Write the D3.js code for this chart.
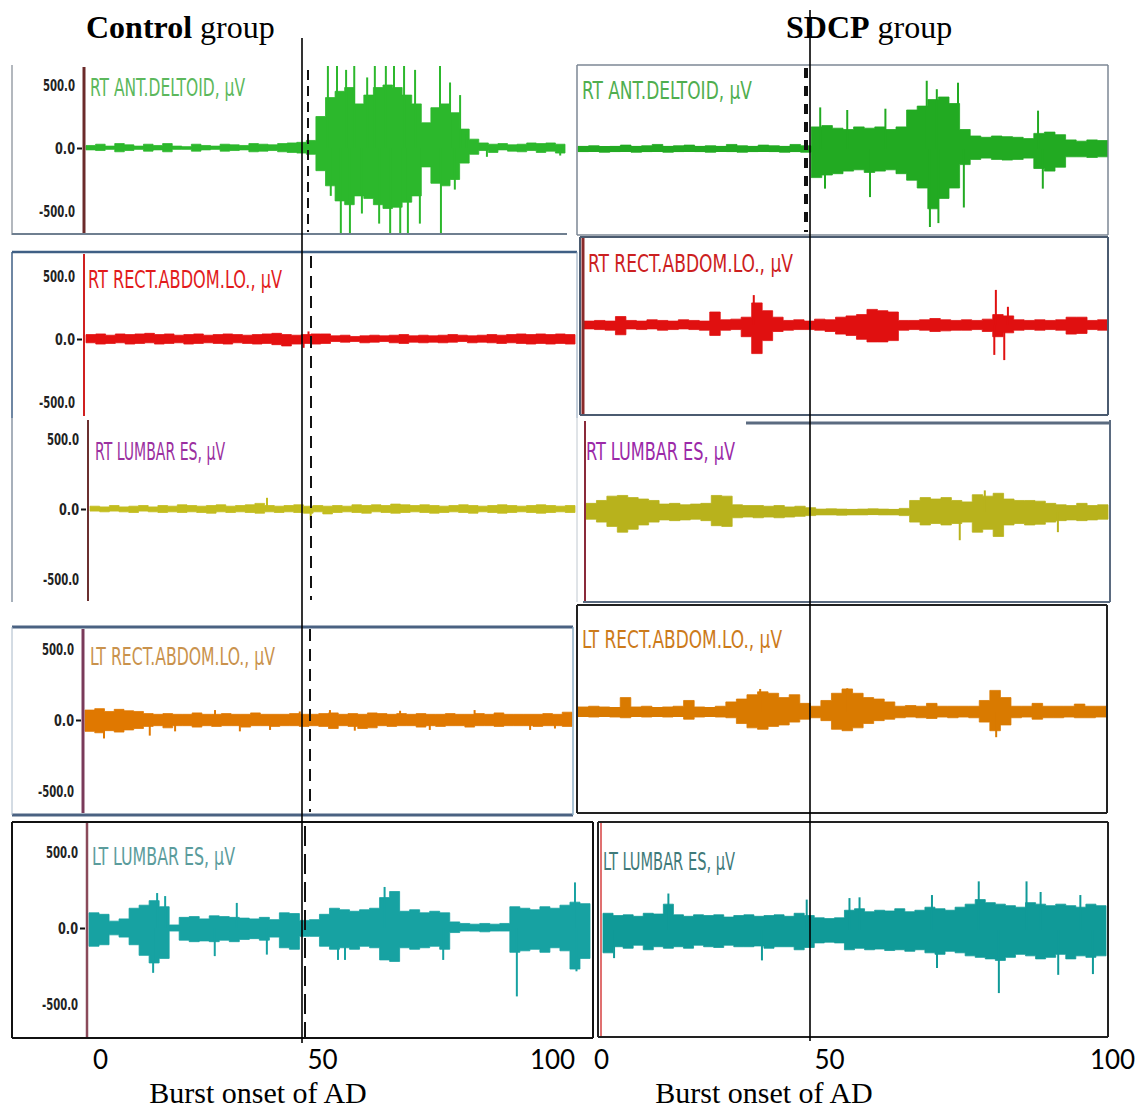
<!DOCTYPE html>
<html>
<head>
<meta charset="utf-8">
<script src="https://cdn.jsdelivr.net/npm/d3@7"></script>
<style>
  body { margin: 0; background: #fff; }
  svg { display: block; }
</style>
</head>
<body>
<div id="chart"></div>
<script>
// EMG traces: each channel is 50 bins over the sweep (0-100),
// hi / lo = envelope of the burst in uV, spikes = [t, uV] for isolated tall deflections
const groupTitles = ["Control", "SDCP"];
const timeTicks = [0, 50, 100];
const xAxisTitle = "Burst onset of AD";
const yTickValues = [500, 0, -500];
const yTickLabels = ["500.0", "0.0", "-500.0"];
const channelNames = ["RT ANT.DELTOID, µV", "RT RECT.ABDOM.LO., µV", "RT LUMBAR ES, µV", "LT RECT.ABDOM.LO., µV", "LT LUMBAR ES, µV"];

// ---- Control group ----
const ctrlDeltoidHi = [20,30,15,35,25,15,30,20,35,15,10,30,20,15,30,25,20,35,30,25,35,40,45,60,250,400,450,480,350,420,480,500,480,420,350,200,320,350,280,150,70,40,30,35,25,30,40,35,40,30];
const ctrlDeltoidLo = [-15,-20,-10,-30,-20,-10,-25,-15,-30,-10,-10,-25,-15,-10,-25,-20,-15,-30,-25,-20,-30,-35,-40,-50,-180,-300,-420,-450,-380,-400,-450,-480,-470,-430,-380,-150,-280,-300,-250,-120,-50,-20,-35,-15,-25,-30,-20,-35,-25,-40];
const ctrlDeltoidSpikes = [[50.5,700],[51.1,-380],[52.4,700],[53.2,-700],[54.3,620],[55.1,-700],[56,700],[57.6,-520],[58.7,560],[60.3,700],[61.2,-600],[62.6,700],[63.5,-700],[64.3,700],[65.6,-700],[66.4,700],[67.2,-700],[68.7,620],[69.7,-600],[73.9,700],[74.1,-700],[76,520],[77,-330],[78.1,420],[79.5,110],[83.7,-70],[99,-60]];

const ctrlRectRHi = [35,40,30,40,35,40,45,35,40,30,35,40,30,35,40,35,30,35,40,45,35,30,35,40,40,25,30,20,25,30,25,30,35,25,30,25,30,35,30,25,30,35,30,35,40,35,40,35,40,35];
const ctrlRectRLo = [-30,-40,-35,-30,-40,-35,-30,-40,-35,-30,-40,-35,-30,-35,-40,-30,-35,-40,-35,-45,-55,-40,-35,-40,-35,-20,-25,-20,-30,-25,-20,-30,-35,-25,-30,-25,-30,-25,-20,-30,-25,-30,-35,-30,-35,-40,-35,-40,-35,-40];
const ctrlRectRSpikes = [[44.5,-70],[45.5,60]];

const ctrlLumbarRHi = [20,15,25,15,20,25,15,25,20,30,25,20,25,30,20,25,30,40,25,20,25,30,20,25,20,25,20,30,25,30,25,35,30,25,30,25,20,25,30,25,20,25,30,25,20,25,30,25,20,25];
const ctrlLumbarRLo = [-15,-20,-15,-20,-25,-15,-20,-25,-20,-25,-20,-25,-30,-20,-25,-20,-25,-30,-20,-25,-20,-25,-30,-20,-35,-25,-20,-25,-30,-20,-25,-30,-25,-20,-25,-30,-25,-20,-25,-30,-20,-25,-30,-25,-20,-25,-30,-25,-20,-25];
const ctrlLumbarRSpikes = [[36.5,80],[45.5,-80]];

const ctrlRectLHi = [70,80,60,75,65,60,45,40,45,40,40,50,40,40,45,40,40,50,40,40,40,45,40,40,45,50,40,45,40,50,45,40,45,40,45,40,40,45,40,40,45,40,50,40,40,40,40,45,40,55];
const ctrlRectLLo = [-80,-90,-75,-85,-70,-60,-45,-40,-55,-40,-40,-50,-40,-45,-40,-40,-50,-40,-40,-45,-40,-40,-45,-40,-45,-60,-40,-45,-60,-55,-40,-45,-40,-40,-50,-40,-45,-40,-40,-50,-40,-40,-45,-40,-40,-40,-45,-40,-40,-45];
const ctrlRectLSpikes = [[3.9,-130],[13.3,-110],[18.5,-80],[26.7,70],[31.8,-80],[38,-70],[44.1,60],[50.3,70],[55.4,-75],[64.7,65],[70.8,-70],[80,70],[91.4,-70],[96.5,-60]];

const ctrlLumbarLHi = [100,90,45,60,130,150,180,140,20,70,75,60,80,75,70,65,60,70,55,100,95,50,55,90,130,120,110,120,130,200,240,110,120,100,110,100,40,30,25,30,25,30,140,130,120,140,130,150,170,160];
const ctrlLumbarLLo = [-120,-110,-45,-60,-110,-180,-230,-200,-20,-80,-90,-85,-90,-80,-90,-75,-70,-80,-60,-130,-140,-55,-55,-120,-140,-130,-140,-120,-130,-210,-220,-130,-140,-130,-120,-140,-30,-20,-20,-25,-20,-20,-160,-150,-140,-160,-130,-150,-270,-200];
const ctrlLumbarLSpikes = [[12.8,-295],[13.6,230],[15.2,210],[25.1,-185],[29.5,165],[35.5,-175],[49.7,-210],[51.1,-210],[59,270],[70.7,-210],[85.4,-450],[97,300],[97.3,-285]];

// ---- SDCP group ----
const sdcpDeltoidHi = [20,25,15,20,30,20,25,35,20,25,30,20,25,20,35,25,20,30,25,20,35,25,170,180,160,150,170,160,170,150,170,300,330,380,400,350,150,100,90,100,95,90,80,120,130,110,70,60,70,65];
const sdcpDeltoidLo = [-20,-15,-25,-20,-15,-25,-20,-15,-25,-20,-15,-20,-25,-15,-20,-25,-20,-15,-20,-25,-20,-25,-220,-200,-190,-170,-160,-180,-170,-160,-190,-240,-300,-460,-380,-300,-120,-80,-70,-80,-85,-80,-70,-150,-170,-140,-60,-60,-65,-60];
const sdcpDeltoidSpikes = [[45.7,320],[46.6,-305],[50.8,300],[55.1,-370],[58,310],[65.8,525],[66.4,-600],[67.7,460],[68,-570],[71.7,510],[72.8,-450],[86.8,295],[87.7,-305]];

const sdcpRectRHi = [30,35,30,65,35,30,40,35,30,40,35,30,100,40,45,60,170,110,60,35,40,30,45,40,60,70,80,120,110,100,35,35,40,50,40,35,40,35,45,80,70,40,35,40,35,40,60,60,35,40];
const sdcpRectRLo = [-30,-35,-40,-75,-30,-35,-30,-40,-35,-30,-35,-40,-80,-40,-35,-90,-220,-120,-50,-40,-35,-35,-40,-50,-70,-80,-110,-130,-130,-120,-40,-35,-40,-50,-45,-40,-40,-35,-50,-90,-60,-40,-35,-40,-35,-40,-70,-65,-35,-40];
const sdcpRectRSpikes = [[32.4,230],[78.6,270],[78.3,-230],[80.2,-270],[80.9,140]];

const sdcpLumbarRHi = [60,80,110,115,100,90,80,55,60,50,55,60,115,110,50,45,45,40,45,35,40,30,20,22,20,18,20,22,20,18,25,80,100,90,100,80,70,120,110,130,90,80,80,75,60,50,45,60,45,50];
const sdcpLumbarRLo = [-50,-70,-100,-140,-120,-90,-70,-55,-60,-55,-50,-60,-95,-100,-40,-35,-40,-35,-40,-35,-30,-25,-20,-20,-22,-20,-20,-18,-20,-20,-25,-70,-90,-80,-90,-80,-70,-140,-120,-170,-90,-80,-90,-85,-70,-60,-55,-60,-55,-50];
const sdcpLumbarRSpikes = [[71.6,-196],[76.4,150],[90.4,-140]];

const sdcpRectLHi = [35,40,35,30,100,35,40,30,35,40,80,35,30,40,70,90,120,140,130,100,120,60,40,80,130,160,130,100,90,70,40,45,40,60,40,40,40,40,80,150,100,40,40,60,40,40,40,55,40,40];
const sdcpRectLLo = [-30,-35,-30,-35,-40,-30,-35,-30,-35,-30,-50,-35,-30,-35,-40,-80,-110,-120,-100,-90,-70,-50,-40,-60,-120,-130,-110,-80,-60,-50,-40,-35,-40,-45,-35,-40,-35,-40,-70,-130,-90,-40,-35,-50,-40,-40,-35,-40,-40,-35];
const sdcpRectLSpikes = [[79.2,-175],[34.5,160],[51,165]];

const sdcpLumbarLHi = [110,95,100,90,110,105,170,100,90,100,95,100,85,95,100,90,95,100,90,110,95,80,75,80,130,140,120,130,125,140,120,130,150,140,130,150,170,200,180,170,160,150,180,170,160,170,160,150,170,160];
const sdcpLumbarLLo = [-150,-110,-120,-100,-130,-110,-120,-110,-120,-100,-110,-115,-100,-110,-110,-105,-120,-110,-110,-130,-115,-85,-80,-85,-130,-120,-130,-125,-135,-130,-140,-130,-150,-160,-140,-150,-170,-180,-190,-200,-180,-160,-170,-190,-180,-160,-190,-170,-180,-170];
const sdcpLumbarLSpikes = [[2.2,-185],[13,240],[31.6,-200],[40.5,200],[49,210],[51,215],[65.4,230],[66.4,-250],[74.7,320],[78.7,-415],[84.2,320],[87,250],[90.5,-295],[94.9,230],[97.4,-290]];

// ---- layout ----
const W = 1141, H = 1110;
const svg = d3.select("#chart").append("svg").attr("width", W).attr("height", H);
const defs = svg.append("defs");

// panel geometry: box, trace x-range, zero line y, px per 500 uV, channel start line, baseline band width
const panels = [
  { hi: ctrlDeltoidHi, lo: ctrlDeltoidLo, spikes: ctrlDeltoidSpikes, name: 0, color: "#2cb82c", labelColor: "#5cb85c",
    box: [12, 66, 575, 234], trace: [86, 565], zero: 148, px: 63, band: 2.5, yAxis: true, axisX: 84, axisColor: "#6b2a2a", axisW: 3,
    label: [90, 96, 155],
    borders: [[12,65,12,235,"#9aa0a8",1.5],[12,234,567,234,"#6f7f90",2]] },
  { hi: ctrlRectRHi, lo: ctrlRectRLo, spikes: ctrlRectRSpikes, name: 1, color: "#e41010", labelColor: "#e21b1b",
    box: [12, 253, 577, 417], trace: [86, 575], zero: 339, px: 63, band: 4, yAxis: true, axisX: 84, axisColor: "#d02020", axisW: 2,
    label: [88, 288, 194],
    borders: [[12,252,577,252,"#3f5f85",2.5],[12,252,12,418,"#3f5f85",1.5],[577,252,577,418,"#8aa0b8",1]] },
  { hi: ctrlLumbarRHi, lo: ctrlLumbarRLo, spikes: ctrlLumbarRSpikes, name: 2, color: "#c3bd1e", labelColor: "#9b30a0",
    box: [12, 419, 577, 602], trace: [90, 575], zero: 509, px: 70, band: 4, yAxis: true, axisX: 88, axisColor: "#6b3030", axisW: 2,
    label: [95, 460, 130],
    borders: [[12,418,12,602,"#8a96a4",1.5],[577,418,577,602,"#c0c8d0",1]] },
  { hi: ctrlRectLHi, lo: ctrlRectLLo, spikes: ctrlRectLSpikes, name: 3, color: "#e07800", labelColor: "#c9924c",
    box: [12, 628, 573, 814], trace: [85, 572], zero: 720, px: 71, band: 7, yAxis: true, axisX: 83, axisColor: "#7a3a5a", axisW: 3,
    label: [90, 665, 185],
    borders: [[12,627,573,627,"#4a6282",3],[12,815,573,815,"#4a6282",3],[12,627,12,815,"#a8b8c8",1],[573,627,573,815,"#8fb0c8",1.5]] },
  { hi: ctrlLumbarLHi, lo: ctrlLumbarLLo, spikes: ctrlLumbarLSpikes, name: 4, color: "#17a2a2", labelColor: "#5b9c9c",
    box: [12, 822, 593, 1038], trace: [89, 590], zero: 928, px: 76, band: 6, yAxis: true, axisX: 87, axisColor: "#8a4a5a", axisW: 2.5,
    label: [92, 865, 143],
    borders: [[12,822,593,822,"#111",2],[12,1038,593,1038,"#111",2],[12,822,12,1038,"#111",2],[593,822,593,1038,"#111",2]] },
  { hi: sdcpDeltoidHi, lo: sdcpDeltoidLo, spikes: sdcpDeltoidSpikes, name: 0, color: "#22aa22", labelColor: "#4fae4f",
    box: [577, 65, 1108, 235], trace: [578, 1108], zero: 149, px: 65, band: 6, yAxis: false,
    label: [582, 99, 170],
    borders: [[577,65,1108,65,"#7d8795",1.5],[577,235,1108,235,"#7d8795",1.5],[577,65,577,235,"#7d8795",1.5],[1108,65,1108,235,"#7d8795",1.5]] },
  { hi: sdcpRectRHi, lo: sdcpRectRLo, spikes: sdcpRectRSpikes, name: 1, color: "#e01010", labelColor: "#cc2020",
    box: [580, 237, 1108, 415], trace: [584, 1108], zero: 325, px: 65, band: 7, yAxis: false, axisX: 583, axisColor: "#8a2a2a", axisW: 3,
    label: [588, 272, 205],
    borders: [[580,237,1108,237,"#4b5b70",2],[580,415,1108,415,"#4b5b70",2],[580,237,580,415,"#4b5b70",2],[1108,237,1108,415,"#4b5b70",2]] },
  { hi: sdcpLumbarRHi, lo: sdcpLumbarRLo, spikes: sdcpLumbarRSpikes, name: 2, color: "#b8b21c", labelColor: "#9b2aa8",
    box: [583, 420, 1110, 602], trace: [586, 1108], zero: 512, px: 72, band: 6, yAxis: false, axisX: 585, axisColor: "#8a2a3a", axisW: 2,
    label: [586, 460, 149],
    borders: [[746,423,1110,423,"#5b6b80",3],[1110,420,1110,602,"#5b6b80",2],[583,602,1110,602,"#5b6b80",2]] },
  { hi: sdcpRectLHi, lo: sdcpRectLLo, spikes: sdcpRectLSpikes, name: 3, color: "#d97a00", labelColor: "#cc7a1a",
    box: [577, 605, 1107, 813], trace: [578, 1106], zero: 712, px: 72, band: 10, yAxis: false,
    label: [582, 648, 200],
    borders: [[577,605,1107,605,"#222",2],[577,813,1107,813,"#222",2],[577,605,577,813,"#222",2],[1107,605,1107,813,"#222",2]] },
  { hi: sdcpLumbarLHi, lo: sdcpLumbarLLo, spikes: sdcpLumbarLSpikes, name: 4, color: "#109a98", labelColor: "#3f7a7a",
    box: [598, 822, 1108, 1037], trace: [603, 1106], zero: 930, px: 76, band: 8, yAxis: false, axisX: 601, axisColor: "#e07070", axisW: 2,
    label: [603, 870, 132],
    borders: [[598,822,1108,822,"#222",2],[598,1037,1108,1037,"#222",2],[598,822,598,1037,"#222",2],[1108,822,1108,1037,"#222",2]] }
];

const labelFont = "'Liberation Sans Narrow', 'DejaVu Sans Condensed', sans-serif";

panels.forEach((p, k) => {
  const [bx0, by0, bx1, by1] = p.box;
  const g = svg.append("g");

  const x = d3.scaleLinear().domain([0, 100]).range(p.trace);
  const y = d3.scaleLinear().domain([-500, 500]).range([p.zero + p.px, p.zero - p.px]);

  // clip traces to the panel
  defs.append("clipPath").attr("id", "clip" + k)
    .append("rect").attr("x", bx0).attr("y", by0).attr("width", bx1 - bx0).attr("height", by1 - by0);

  const tr = g.append("g").attr("clip-path", `url(#clip${k})`);

  const pts = p.hi.map((h, i) => ({ t: i * 2, hi: h, lo: p.lo[i] }));
  pts.push({ t: 100, hi: p.hi[p.hi.length - 1], lo: p.lo[p.lo.length - 1] });

  const area = d3.area()
    .curve(d3.curveStepAfter)
    .x(d => x(d.t))
    .y0(d => y(d.lo))
    .y1(d => y(d.hi));

  tr.append("path")
    .datum(pts)
    .attr("d", area)
    .attr("fill", p.color)
    .attr("stroke", p.color)
    .attr("stroke-width", 0.8);

  // noise floor
  tr.append("line")
    .attr("x1", x(0)).attr("x2", x(100))
    .attr("y1", y(0)).attr("y2", y(0))
    .attr("stroke", p.color)
    .attr("stroke-width", p.band);

  tr.selectAll(".spike")
    .data(p.spikes)
    .enter().append("line")
    .attr("class", "spike")
    .attr("x1", d => x(d[0])).attr("x2", d => x(d[0]))
    .attr("y1", y(0)).attr("y2", d => y(d[1]))
    .attr("stroke", p.color)
    .attr("stroke-width", 2);

  // panel frame
  g.selectAll(".border")
    .data(p.borders)
    .enter().append("line")
    .attr("x1", d => d[0]).attr("y1", d => d[1])
    .attr("x2", d => d[2]).attr("y2", d => d[3])
    .attr("stroke", d => d[4])
    .attr("stroke-width", d => d[5]);

  // channel start line
  if (p.axisX !== undefined) {
    g.append("line")
      .attr("x1", p.axisX).attr("x2", p.axisX)
      .attr("y1", by0 + 1).attr("y2", by1 - 1)
      .attr("stroke", p.axisColor)
      .attr("stroke-width", p.axisW);
  }

  // y-axis ticks (control traces only)
  if (p.yAxis) {
    const ax = g.append("g")
      .attr("transform", `translate(${p.axisX - 2},0)`)
      .call(d3.axisLeft(y)
        .tickValues(yTickValues)
        .tickFormat((d, i) => yTickLabels[i])
        .tickSize(5)
        .tickPadding(2));
    ax.select(".domain").remove();
    ax.selectAll("line")
      .attr("stroke", "#111").attr("stroke-width", 2)
      .attr("opacity", d => d === 0 ? 1 : 0);
    ax.selectAll("text")
      .attr("font-family", "'DejaVu Sans Condensed', sans-serif")
      .attr("font-weight", "bold")
      .attr("font-size", 16)
      .attr("textLength", (d, i) => i === 1 ? 20 : (i === 0 ? 32 : 36))
      .attr("lengthAdjust", "spacingAndGlyphs")
      .attr("fill", "#222");
  }

  // channel label
  g.append("text")
    .attr("x", p.label[0])
    .attr("y", p.label[1])
    .attr("textLength", p.label[2])
    .attr("lengthAdjust", "spacingAndGlyphs")
    .attr("font-family", labelFont)
    .attr("font-size", 25)
    .attr("fill", p.labelColor)
    .text(channelNames[p.name]);
});

// onset markers: dashed per-panel lines and the solid reference lines
const dashed = [
  [308, 70, 232, 2, "10,6"], [311, 256, 600, 2, "12,8"], [310, 629, 812, 2, "12,8"],
  [305, 826, 1038, 2, "20,8"], [806, 68, 232, 4, "10,8"]
];
svg.selectAll(".dash")
  .data(dashed)
  .enter().append("line")
  .attr("x1", d => d[0]).attr("x2", d => d[0])
  .attr("y1", d => d[1]).attr("y2", d => d[2])
  .attr("stroke", "#111")
  .attr("stroke-width", d => d[3])
  .attr("stroke-dasharray", d => d[4]);

svg.append("line").attr("x1", 302).attr("x2", 302).attr("y1", 38).attr("y2", 1043)
  .attr("stroke", "#000").attr("stroke-width", 1.6);
svg.append("line").attr("x1", 810).attr("x2", 810).attr("y1", 10).attr("y2", 1041)
  .attr("stroke", "#000").attr("stroke-width", 1.6);

// group titles
const titleX = [86, 786];
groupTitles.forEach((t, i) => {
  const tx = svg.append("text")
    .attr("x", titleX[i]).attr("y", 38)
    .attr("font-family", "'Liberation Serif', 'Times New Roman', serif")
    .attr("font-size", 32)
    .attr("fill", "#000");
  tx.append("tspan").attr("font-weight", "bold").text(t);
  tx.append("tspan").text(" group");
});

// bottom time axes
const timeScales = [
  d3.scaleLinear().domain(timeTicks).range([100, 322, 552]),
  d3.scaleLinear().domain(timeTicks).range([601, 829, 1112])
];
timeScales.forEach((s, i) => {
  const ax = svg.append("g")
    .attr("transform", "translate(0,1051)")
    .call(d3.axisBottom(s).tickValues(timeTicks).tickSize(0).tickPadding(0));
  ax.select(".domain").remove();
  ax.selectAll("text")
    .attr("font-family", "Lato, 'Open Sans', sans-serif")
    .attr("font-size", 26)
    .attr("fill", "#000");

  svg.append("text")
    .attr("x", i === 0 ? 258 : 764)
    .attr("y", 1103)
    .attr("text-anchor", "middle")
    .attr("font-family", "'Liberation Serif', 'Times New Roman', serif")
    .attr("font-size", 30)
    .attr("fill", "#000")
    .text(xAxisTitle);
});
</script>
</body>
</html>
